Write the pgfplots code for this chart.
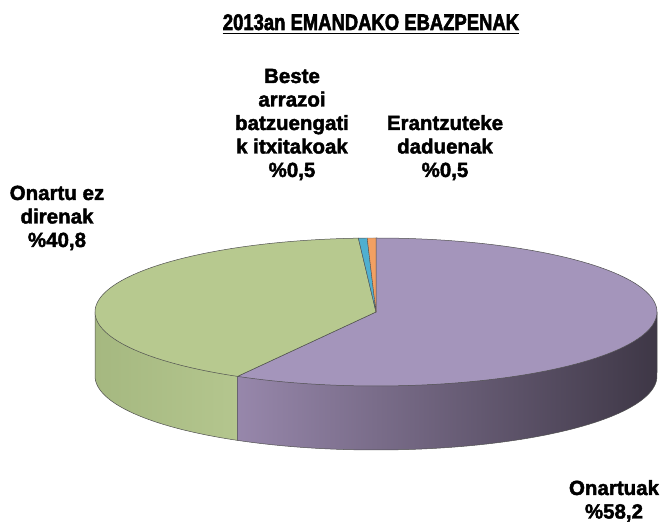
\documentclass[border=0pt]{standalone}
\usepackage{pgfplots}
\pgfplotsset{compat=1.18}
\usepackage{pgfplotstable}
\usepackage{fontspec}
\setmainfont{Liberation Sans}
\newfontface\tfont{Liberation Sans Bold}[FakeBold=2.8]
\newfontface\lfont{Liberation Sans Bold}[FakeBold=2]
\definecolor{pTop}{HTML}{A495BB}
\definecolor{gTop}{HTML}{B7C98F}
\definecolor{bTop}{HTML}{4FAFD0}
\definecolor{oTop}{HTML}{F2A062}
\definecolor{pSideL}{HTML}{9787AB}
\definecolor{pSideR}{HTML}{3E3746}
\definecolor{gSideL}{HTML}{A5B880}
\definecolor{gSideR}{HTML}{B4C68E}
\definecolor{edge}{HTML}{505050}
\pgfplotstableread{
label value
Onartuak 58.2
OnartuEz 40.8
Beste 0.5
Erantzuteke 0.5
}\piedata
\pgfplotstablegetelem{0}{value}\of\piedata \let\vA\pgfplotsretval
\pgfplotstablegetelem{1}{value}\of\piedata \let\vB\pgfplotsretval
\pgfplotstablegetelem{2}{value}\of\piedata \let\vC\pgfplotsretval
\pgfplotstablegetelem{3}{value}\of\piedata \let\vD\pgfplotsretval
\pgfmathsetmacro\aO{90}
\pgfmathsetmacro\aA{\aO-3.6*\vA}
\pgfmathsetmacro\aB{\aA-3.6*\vB}
\pgfmathsetmacro\aC{\aB-3.6*\vC}
\pgfmathsetmacro\aD{\aC-3.6*\vD}
\def\cx{376}
\def\cy{215}
\def\rx{281}
\def\ry{74}
\def\dd{64}
\begin{document}
\begin{tikzpicture}
\begin{axis}[
  hide axis, scale only axis, width=662pt, height=527pt,
  xmin=0, xmax=662, ymin=0, ymax=527, clip=false,
]
\path (axis cs:0,0) rectangle (axis cs:662,527);
% side walls
\addplot[draw=edge, line width=0.5pt, left color=gSideL, right color=gSideR, domain=-180:\aA, samples=50]
  ({\cx+\rx*cos(x)},{\cy+\ry*sin(x)-\dd}) -- (axis cs:{\cx+\rx*cos(\aA)},\cy) -- (axis cs:{\cx-\rx},\cy) -- cycle;
\addplot[draw=edge, line width=0.5pt, left color=pSideL, right color=pSideR, domain=\aA:0, samples=80]
  ({\cx+\rx*cos(x)},{\cy+\ry*sin(x)-\dd}) -- (axis cs:{\cx+\rx},\cy) -- (axis cs:{\cx+\rx*cos(\aA)},\cy) -- cycle;
% top slices
\addplot[draw=edge, line width=0.5pt, fill=pTop, domain=\aA:\aO, samples=120]
  ({\cx+\rx*cos(x)},{\cy+\ry*sin(x)}) -- (axis cs:\cx,\cy) -- cycle;
\addplot[draw=edge, line width=0.5pt, fill=gTop, domain=\aB:\aA, samples=90]
  ({\cx+\rx*cos(x)},{\cy+\ry*sin(x)}) -- (axis cs:\cx,\cy) -- cycle;
\addplot[draw=edge, line width=0.4pt, fill=bTop, domain=\aC:\aB, samples=4]
  ({\cx+\rx*cos(x)},{\cy+\ry*sin(x)}) -- (axis cs:\cx,\cy) -- cycle;
\addplot[draw=edge, line width=0.4pt, fill=oTop, domain=\aD:\aC, samples=4]
  ({\cx+\rx*cos(x)},{\cy+\ry*sin(x)}) -- (axis cs:\cx,\cy) -- cycle;
% title
\node[inner sep=0, anchor=base, font=\fontsize{22.5}{26}\selectfont\tfont] (t) at (axis cs:371,497)
  {\scalebox{0.82}[1]{2013an EMANDAKO EBAZPENAK}};
\draw[line width=1.8pt] ([yshift=-3.5pt]t.base west) -- ([yshift=-3.5pt]t.base east);
% labels
\node[inner sep=0, anchor=base, font=\fontsize{20.5}{23.5}\selectfont\lfont] at (axis cs:292,444)
  {\begin{tabular}[t]{@{}c@{}}Beste\\arrazoi\\batzuengati\\k itxitakoak\\\%0,5\end{tabular}};
\node[inner sep=0, anchor=base, font=\fontsize{20.5}{23.5}\selectfont\lfont] at (axis cs:445,397)
  {\begin{tabular}[t]{@{}c@{}}Erantzuteke\\daduenak\\\%0,5\end{tabular}};
\node[inner sep=0, anchor=base, font=\fontsize{20.5}{23.5}\selectfont\lfont] at (axis cs:57,327)
  {\begin{tabular}[t]{@{}c@{}}Onartu ez\\direnak\\\%40,8\end{tabular}};
\node[inner sep=0, anchor=base, font=\fontsize{20.5}{23.5}\selectfont\lfont] at (axis cs:614,32)
  {\begin{tabular}[t]{@{}c@{}}Onartuak\\\%58,2\end{tabular}};
\end{axis}
\end{tikzpicture}
\end{document}
